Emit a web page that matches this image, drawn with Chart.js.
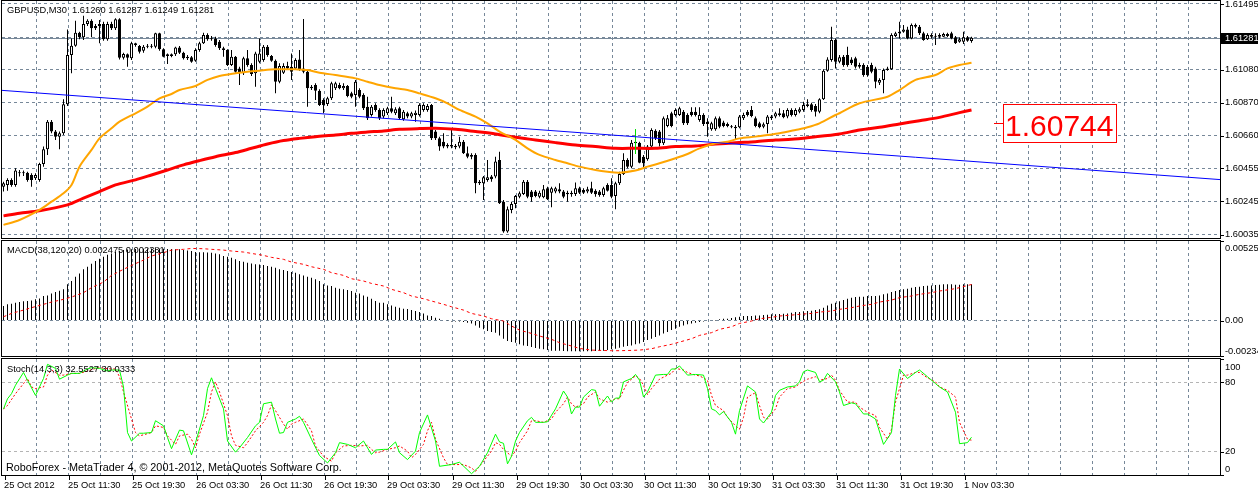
<!DOCTYPE html>
<html lang="en">
<head>
<meta charset="UTF-8">
<title>GBPUSD,M30</title>
<script src="https://cdn.jsdelivr.net/npm/chart.js@4.4.0/dist/chart.umd.min.js"></script>
<style>
    body { margin: 0; background: #fff; width: 1258px; height: 493px; overflow: hidden; position: relative; }
    canvas { position: absolute; left: 0; }
    #price { top: 0; }
    #macd { top: 240px; }
    #stoch { top: 358px; }
</style>
</head>
<body>
<canvas id="price" width="1258" height="240"></canvas>
<canvas id="macd" width="1258" height="118"></canvas>
<canvas id="stoch" width="1258" height="135"></canvas>
<script>
// ---- data (GBPUSD M30, 243 bars, 25 Oct 03:30 .. 1 Nov) ----
const timeLabels = ['25 Oct 2012', '25 Oct 11:30', '25 Oct 19:30', '26 Oct 03:30', '26 Oct 11:30', '26 Oct 19:30',
    '29 Oct 03:30', '29 Oct 11:30', '29 Oct 19:30', '30 Oct 03:30', '30 Oct 11:30', '30 Oct 19:30',
    '31 Oct 03:30', '31 Oct 11:30', '31 Oct 19:30', '1 Nov 03:30'];

const opens = [
    1.60338,1.60349,1.60381,1.60349,1.60427,1.60423,1.60427,1.60412,1.60391,1.60381,
    1.60482,1.60575,1.60750,1.60687,1.60655,1.60676,1.60860,1.61172,1.61231,1.61313,
    1.61284,1.61368,1.61389,1.61355,1.61355,1.61368,1.61271,1.61368,1.61341,1.61398,
    1.61155,1.61176,1.61151,1.61246,1.61229,1.61199,1.61225,1.61231,1.61225,1.61309,
    1.61208,1.61176,1.61166,1.61176,1.61220,1.61187,1.61161,1.61157,1.61136,1.61204,
    1.61246,1.61298,1.61271,1.61277,1.61256,1.61214,1.61204,1.61109,1.61161,1.61087,
    1.61056,1.61151,1.61109,1.61056,1.61130,1.61140,1.61225,1.61166,1.61136,1.61003,
    1.61060,1.61102,1.61098,1.61087,1.61144,1.61087,1.61066,1.60971,1.60982,1.60946,
    1.60887,1.60862,1.60898,1.60961,1.60982,1.60961,1.60976,1.60929,1.60919,1.60950,
    1.60919,1.60845,1.60792,1.60855,1.60824,1.60782,1.60803,1.60834,1.60803,1.60834,
    1.60765,1.60803,1.60782,1.60792,1.60792,1.60824,1.60824,1.60855,1.60687,1.60644,
    1.60623,1.60602,1.60602,1.60587,1.60592,1.60623,1.60549,1.60539,1.60539,1.60370,
    1.60360,1.60381,1.60402,1.60402,1.60507,1.60243,1.60054,1.60191,1.60229,1.60275,
    1.60292,1.60370,1.60307,1.60307,1.60275,1.60271,1.60328,1.60300,1.60307,1.60322,
    1.60307,1.60300,1.60290,1.60292,1.60328,1.60317,1.60307,1.60328,1.60313,1.60307,
    1.60286,1.60349,1.60349,1.60279,1.60360,1.60419,1.60507,1.60465,1.60613,1.60617,
    1.60528,1.60511,1.60592,1.60693,1.60687,1.60613,1.60722,1.60803,1.60792,1.60792,
    1.60813,1.60792,1.60813,1.60813,1.60760,1.60792,1.60750,1.60701,1.60701,1.60771,
    1.60744,1.60722,1.60718,1.60718,1.60714,1.60771,1.60813,1.60824,1.60771,1.60739,
    1.60718,1.60735,1.60782,1.60782,1.60792,1.60803,1.60782,1.60824,1.60792,1.60813,
    1.60824,1.60849,1.60860,1.60849,1.60813,1.60891,1.61073,1.61140,1.61267,1.61130,
    1.61161,1.61172,1.61144,1.61151,1.61098,1.61109,1.61098,1.61109,1.61087,1.60997,
    1.61014,1.61077,1.61081,1.61292,1.61309,1.61320,1.61334,1.61277,1.61362,1.61351,
    1.61309,1.61271,1.61298,1.61292,1.61288,1.61288,1.61305,1.61309,1.61284,1.61256,
    1.61256,1.61284,1.61260];

const highs = [
    1.60370,1.60391,1.60391,1.60454,1.60444,1.60440,1.60433,1.60423,1.60423,1.60490,
    1.60592,1.60760,1.60760,1.60697,1.60687,1.60891,1.61334,1.61277,1.61389,1.61320,
    1.61421,1.61398,1.61398,1.61368,1.61393,1.61383,1.61383,1.61383,1.61404,1.61404,
    1.61187,1.61182,1.61256,1.61250,1.61235,1.61235,1.61241,1.61241,1.61313,1.61313,
    1.61214,1.61182,1.61182,1.61225,1.61229,1.61193,1.61172,1.61166,1.61214,1.61256,
    1.61313,1.61309,1.61292,1.61288,1.61267,1.61225,1.61208,1.61204,1.61166,1.61098,
    1.61161,1.61204,1.61119,1.61193,1.61277,1.61235,1.61235,1.61172,1.61144,1.61119,
    1.61119,1.61130,1.61182,1.61151,1.61204,1.61400,1.61077,1.60982,1.60993,1.60955,
    1.60898,1.60908,1.61003,1.61003,1.60997,1.60993,1.60982,1.60940,1.61014,1.60961,
    1.60929,1.60908,1.60855,1.60866,1.60834,1.60834,1.60845,1.60908,1.60841,1.60845,
    1.60824,1.60813,1.60813,1.60820,1.60866,1.60866,1.60862,1.60862,1.60697,1.60655,
    1.60676,1.60613,1.60697,1.60608,1.60655,1.60634,1.60592,1.60549,1.60549,1.60381,
    1.60406,1.60507,1.60412,1.60528,1.60560,1.60254,1.60212,1.60243,1.60286,1.60307,
    1.60381,1.60381,1.60317,1.60317,1.60313,1.60349,1.60338,1.60338,1.60338,1.60360,
    1.60317,1.60313,1.60313,1.60364,1.60338,1.60328,1.60338,1.60370,1.60322,1.60317,
    1.60338,1.60360,1.60391,1.60370,1.60433,1.60549,1.60518,1.60634,1.60634,1.60623,
    1.60539,1.60602,1.60708,1.60701,1.60697,1.60782,1.60792,1.60813,1.60834,1.60845,
    1.60824,1.60803,1.60841,1.60841,1.60841,1.60803,1.60771,1.60750,1.60782,1.60782,
    1.60756,1.60744,1.60729,1.60729,1.60792,1.60807,1.60824,1.60849,1.60782,1.60750,
    1.60744,1.60792,1.60792,1.60813,1.60834,1.60824,1.60834,1.60834,1.60834,1.60841,
    1.60876,1.60891,1.60870,1.60862,1.60898,1.61081,1.61157,1.61351,1.61277,1.61172,
    1.61172,1.61225,1.61157,1.61161,1.61123,1.61119,1.61109,1.61123,1.61098,1.61024,
    1.61087,1.61098,1.61309,1.61320,1.61383,1.61362,1.61351,1.61372,1.61372,1.61362,
    1.61320,1.61309,1.61309,1.61309,1.61309,1.61313,1.61313,1.61320,1.61292,1.61284,
    1.61320,1.61292,1.61287];

const lows = [
    1.60307,1.60313,1.60338,1.60338,1.60402,1.60406,1.60370,1.60338,1.60381,1.60370,
    1.60465,1.60539,1.60676,1.60634,1.60575,1.60665,1.60849,1.61056,1.61225,1.61271,
    1.61267,1.61355,1.61284,1.61330,1.61246,1.61263,1.61263,1.61330,1.61330,1.61144,
    1.61144,1.61098,1.61140,1.61225,1.61182,1.61187,1.61214,1.61214,1.61214,1.61199,
    1.61157,1.61115,1.61157,1.61166,1.61178,1.61144,1.61140,1.61123,1.61130,1.61193,
    1.61241,1.61263,1.61263,1.61225,1.61204,1.61161,1.61102,1.61102,1.61060,1.60982,
    1.61045,1.61098,1.61039,1.60971,1.61119,1.61130,1.61161,1.61130,1.60929,1.60993,
    1.61052,1.61077,1.61014,1.61077,1.61073,1.61056,1.60845,1.60950,1.60887,1.60849,
    1.60803,1.60849,1.60887,1.60950,1.60955,1.60950,1.60904,1.60898,1.60845,1.60898,
    1.60824,1.60760,1.60782,1.60813,1.60760,1.60771,1.60792,1.60803,1.60792,1.60760,
    1.60756,1.60771,1.60771,1.60750,1.60782,1.60813,1.60813,1.60634,1.60634,1.60566,
    1.60581,1.60581,1.60581,1.60575,1.60581,1.60545,1.60518,1.60511,1.60296,1.60349,
    1.60254,1.60370,1.60370,1.60391,1.60229,1.60047,1.60047,1.60170,1.60201,1.60265,
    1.60286,1.60265,1.60243,1.60271,1.60265,1.60265,1.60254,1.60208,1.60296,1.60296,
    1.60265,1.60243,1.60275,1.60279,1.60292,1.60292,1.60296,1.60292,1.60275,1.60275,
    1.60275,1.60307,1.60265,1.60195,1.60349,1.60412,1.60454,1.60454,1.60602,1.60486,
    1.60454,1.60503,1.60581,1.60634,1.60592,1.60602,1.60714,1.60714,1.60782,1.60786,
    1.60729,1.60729,1.60782,1.60782,1.60750,1.60722,1.60655,1.60693,1.60693,1.60708,
    1.60714,1.60714,1.60708,1.60638,1.60708,1.60760,1.60782,1.60777,1.60714,1.60708,
    1.60708,1.60676,1.60760,1.60771,1.60782,1.60771,1.60771,1.60782,1.60782,1.60803,
    1.60813,1.60841,1.60813,1.60782,1.60803,1.60887,1.61066,1.61130,1.61087,1.61119,
    1.61098,1.61098,1.61109,1.61087,1.61087,1.61035,1.61035,1.61056,1.60961,1.60982,
    1.60929,1.61073,1.61077,1.61284,1.61277,1.61313,1.61271,1.61271,1.61341,1.61298,
    1.61263,1.61267,1.61277,1.61235,1.61277,1.61284,1.61284,1.61271,1.61241,1.61250,
    1.61241,1.61256,1.61249];

const closes = [
    1.60360,1.60381,1.60349,1.60440,1.60423,1.60427,1.60381,1.60381,1.60412,1.60482,
    1.60575,1.60750,1.60687,1.60655,1.60676,1.60860,1.61172,1.61231,1.61313,1.61284,
    1.61368,1.61389,1.61341,1.61341,1.61368,1.61271,1.61368,1.61341,1.61398,1.61155,
    1.61178,1.61155,1.61246,1.61235,1.61193,1.61225,1.61231,1.61225,1.61309,1.61208,
    1.61161,1.61166,1.61176,1.61220,1.61187,1.61151,1.61151,1.61130,1.61204,1.61246,
    1.61298,1.61271,1.61277,1.61235,1.61214,1.61204,1.61109,1.61161,1.61066,1.61060,
    1.61151,1.61109,1.61052,1.61182,1.61182,1.61225,1.61172,1.61136,1.61003,1.61102,
    1.61102,1.61087,1.61066,1.61140,1.61081,1.61066,1.60961,1.60961,1.60946,1.60855,
    1.60855,1.60898,1.60993,1.60993,1.60961,1.60976,1.60912,1.60908,1.61003,1.60908,
    1.60834,1.60771,1.60845,1.60824,1.60771,1.60824,1.60834,1.60813,1.60828,1.60771,
    1.60813,1.60782,1.60803,1.60807,1.60855,1.60855,1.60849,1.60644,1.60644,1.60592,
    1.60592,1.60592,1.60592,1.60598,1.60623,1.60549,1.60528,1.60528,1.60360,1.60360,
    1.60398,1.60398,1.60385,1.60497,1.60233,1.60054,1.60195,1.60229,1.60279,1.60296,
    1.60370,1.60275,1.60271,1.60279,1.60300,1.60322,1.60258,1.60328,1.60328,1.60307,
    1.60275,1.60290,1.60300,1.60328,1.60300,1.60300,1.60322,1.60300,1.60290,1.60286,
    1.60328,1.60313,1.60275,1.60360,1.60419,1.60507,1.60465,1.60617,1.60623,1.60490,
    1.60486,1.60592,1.60697,1.60644,1.60613,1.60771,1.60771,1.60722,1.60824,1.60834,
    1.60739,1.60739,1.60792,1.60792,1.60792,1.60735,1.60735,1.60739,1.60771,1.60718,
    1.60722,1.60735,1.60714,1.60708,1.60782,1.60792,1.60792,1.60786,1.60722,1.60714,
    1.60733,1.60782,1.60771,1.60803,1.60803,1.60777,1.60824,1.60792,1.60824,1.60828,
    1.60855,1.60860,1.60824,1.60813,1.60891,1.61073,1.61144,1.61267,1.61130,1.61157,
    1.61109,1.61109,1.61119,1.61098,1.61109,1.61045,1.61045,1.61066,1.61003,1.61014,
    1.61077,1.61087,1.61298,1.61309,1.61320,1.61334,1.61277,1.61362,1.61351,1.61309,
    1.61267,1.61298,1.61288,1.61288,1.61298,1.61305,1.61292,1.61277,1.61246,1.61271,
    1.61284,1.61263,1.61281];

// moving averages as [bar, price]
const maFast = [[0,1.60096],[4,1.60127],[9,1.60191],[12,1.60243],[15,1.60296],[17,1.60349],[19,1.60465],[22,1.60571],
    [24,1.60644],[27,1.60708],[29,1.60750],[33,1.60803],[36,1.60845],[39,1.60898],[42,1.60925],[44,1.60950],[48,1.60976],
    [51,1.61014],[54,1.61039],[58,1.61056],[61,1.61066],[64,1.61073],[68,1.61081],[71,1.61081],[73,1.61081],[76,1.61077],
    [79,1.61060],[83,1.61045],[88,1.61024],[91,1.61003],[94,1.60982],[98,1.60961],[101,1.60950],[104,1.60929],[108,1.60898],
    [111,1.60866],[114,1.60824],[118,1.60782],[121,1.60739],[124,1.60687],[128,1.60634],[131,1.60581],[134,1.60539],
    [138,1.60507],[141,1.60486],[144,1.60465],[148,1.60444],[151,1.60433],[154,1.60427],[158,1.60440],[161,1.60465],
    [164,1.60486],[168,1.60518],[171,1.60545],[174,1.60581],[178,1.60613],[181,1.60623],[184,1.60644],[188,1.60655],
    [191,1.60665],[194,1.60676],[198,1.60697],[201,1.60714],[204,1.60739],[208,1.60792],[209,1.60803],[214,1.60866],
    [221,1.60908],[224,1.60950],[228,1.61014],[233,1.61045],[236,1.61087],[239,1.61109],[242,1.61123]];

const maSlow = [[0,1.60153],[4,1.60170],[9,1.60186],[16,1.60223],[20,1.60265],[24,1.60307],[28,1.60349],[33,1.60381],
    [37,1.60412],[41,1.60444],[45,1.60476],[49,1.60503],[53,1.60528],[58,1.60554],[62,1.60581],[66,1.60608],[70,1.60630],
    [74,1.60644],[78,1.60655],[83,1.60665],[87,1.60676],[91,1.60684],[95,1.60691],[99,1.60701],[104,1.60706],[108,1.60708],
    [113,1.60701],[118,1.60687],[123,1.60672],[128,1.60651],[133,1.60634],[138,1.60617],[143,1.60602],[148,1.60592],
    [153,1.60581],[158,1.60581],[163,1.60581],[168,1.60592],[173,1.60596],[178,1.60608],[183,1.60617],[188,1.60623],
    [193,1.60634],[197,1.60638],[202,1.60651],[209,1.60672],[214,1.60697],[219,1.60714],[224,1.60735],[229,1.60756],
    [234,1.60777],[239,1.60807],[242,1.60824]];

const trendLine = [[-0.375,1.60948],[304.125,1.60383]];
const marker = [[158,1.60701],[158,1.60545]];
const priceTicks = [1.61495, 1.61285, 1.61080, 1.60870, 1.60660, 1.60455, 1.60245, 1.60035];
const lastPrice = 1.61281;
const noteValue = 1.60744;

const macdHist = [
    0.00096,0.00107,0.00111,0.00118,0.00122,0.00127,0.00129,0.00133,0.00140,0.00146,
    0.00162,0.00166,0.00179,0.00188,0.00197,0.00206,0.00239,0.00261,0.00289,0.00311,
    0.00338,0.00355,0.00375,0.00393,0.00408,0.00421,0.00435,0.00443,0.00452,0.00459,
    0.00465,0.00469,0.00471,0.00472,0.00473,0.00474,0.00475,0.00475,0.00476,0.00475,
    0.00474,0.00473,0.00472,0.00471,0.00470,0.00465,0.00463,0.00459,0.00452,0.00451,
    0.00450,0.00449,0.00448,0.00443,0.00437,0.00426,0.00421,0.00415,0.00404,0.00393,
    0.00388,0.00382,0.00377,0.00371,0.00370,0.00366,0.00360,0.00355,0.00349,0.00338,
    0.00333,0.00327,0.00320,0.00316,0.00305,0.00298,0.00289,0.00283,0.00272,0.00261,
    0.00239,0.00232,0.00228,0.00217,0.00210,0.00206,0.00201,0.00195,0.00184,0.00179,
    0.00166,0.00157,0.00144,0.00129,0.00118,0.00117,0.00107,0.00100,0.00091,0.00085,
    0.00078,0.00077,0.00069,0.00063,0.00056,0.00047,0.00034,0.00030,0.00019,0.00012,
    0.00003,-0.00001,-0.00006,-0.00006,-0.00006,-0.00010,-0.00014,-0.00019,-0.00032,-0.00047,
    -0.00058,-0.00069,-0.00076,-0.00080,-0.00098,-0.00120,-0.00135,-0.00142,-0.00146,-0.00157,
    -0.00164,-0.00168,-0.00175,-0.00182,-0.00186,-0.00190,-0.00195,-0.00199,-0.00199,-0.00200,
    -0.00201,-0.00202,-0.00202,-0.00203,-0.00203,-0.00203,-0.00202,-0.00202,-0.00201,-0.00200,
    -0.00199,-0.00195,-0.00190,-0.00186,-0.00179,-0.00173,-0.00168,-0.00164,-0.00157,-0.00151,
    -0.00142,-0.00129,-0.00120,-0.00109,-0.00098,-0.00085,-0.00076,-0.00063,-0.00054,-0.00041,
    -0.00032,-0.00025,-0.00019,-0.00014,-0.00010,-0.00006,-0.00003,-0.00003,0.00001,0.00008,
    0.00012,0.00012,0.00017,0.00021,0.00025,0.00030,0.00030,0.00030,0.00034,0.00034,
    0.00036,0.00039,0.00041,0.00041,0.00043,0.00045,0.00047,0.00052,0.00056,0.00056,
    0.00061,0.00063,0.00065,0.00069,0.00074,0.00085,0.00100,0.00111,0.00118,0.00127,
    0.00135,0.00144,0.00151,0.00155,0.00157,0.00157,0.00162,0.00162,0.00162,0.00166,
    0.00173,0.00179,0.00188,0.00195,0.00201,0.00206,0.00210,0.00217,0.00221,0.00223,
    0.00228,0.00230,0.00232,0.00234,0.00237,0.00239,0.00239,0.00239,0.00237,0.00237,
    0.00239,0.00239,0.00240];

const macdSignal = [[0,0.00025],[2,0.00047],[5,0.00069],[7,0.00085],[10,0.00107],[12,0.00122],[15,0.00140],[17,0.00155],
    [20,0.00184],[22,0.00217],[25,0.00254],[27,0.00298],[30,0.00338],[32,0.00364],[35,0.00399],[37,0.00426],[40,0.00448],
    [42,0.00465],[45,0.00470],[47,0.00476],[50,0.00474],[52,0.00470],[55,0.00465],[57,0.00459],[60,0.00452],[62,0.00443],
    [65,0.00430],[67,0.00417],[70,0.00404],[72,0.00386],[75,0.00371],[77,0.00355],[80,0.00338],[82,0.00316],[85,0.00298],
    [87,0.00276],[90,0.00261],[92,0.00245],[95,0.00228],[97,0.00206],[100,0.00184],[102,0.00162],[105,0.00144],[107,0.00129],
    [110,0.00107],[112,0.00091],[115,0.00069],[117,0.00047],[120,0.00030],[122,0.00012],[125,-0.00003],[127,-0.00036],
    [129,-0.00063],[132,-0.00085],[134,-0.00102],[137,-0.00124],[139,-0.00146],[142,-0.00168],[144,-0.00184],[147,-0.00195],
    [149,-0.00197],[152,-0.00199],[154,-0.00199],[157,-0.00197],[159,-0.00195],[162,-0.00186],[164,-0.00173],[167,-0.00157],
    [169,-0.00142],[172,-0.00120],[174,-0.00098],[177,-0.00080],[179,-0.00058],[182,-0.00041],[184,-0.00019],[187,-0.00003],
    [189,0.00012],[192,0.00021],[194,0.00030],[197,0.00036],[199,0.00041],[202,0.00047],[204,0.00056],[207,0.00063],
    [209,0.00074],[212,0.00085],[214,0.00096],[217,0.00107],[219,0.00122],[222,0.00135],[224,0.00151],[227,0.00162],
    [229,0.00173],[232,0.00184],[234,0.00195],[237,0.00206],[239,0.00217],[242,0.00238]];

const stochMain = [[0,57.0],[1,65.7],[2,70.1],[3,77.4],[5,88.4],[6,81.7],[8,68.6],[10,83.2],[11,95.4],[13,91.9],[14,82.6],
    [16,86.1],[17,87.6],[19,87.6],[21,91.4],[22,92.5],[24,91.9],[26,89.6],[27,90.5],[29,90.5],[30,75.9],[31,36.6],[32,29.3],
    [34,36.0],[35,36.0],[37,36.6],[38,46.8],[40,42.4],[41,32.3],[42,22.7],[44,38.7],[45,38.1],[47,17.4],[48,27.9],[50,51.2],
    [51,74.5],[52,83.8],[53,74.5],[55,57.0],[56,29.3],[58,19.7],[59,23.5],[61,32.3],[63,42.4],[64,45.4],[65,61.4],[67,62.8],
    [68,48.3],[69,36.0],[70,36.6],[71,45.4],[73,48.3],[74,50.6],[75,45.4],[77,30.8],[79,16.8],[81,10.4],[83,19.2],[84,27.9],
    [86,26.4],[88,23.5],[90,29.3],[92,17.7],[93,21.5],[95,22.1],[96,22.1],[98,28.5],[99,19.2],[101,13.3],[103,20.6],[104,36.6],
    [106,51.8],[108,29.3],[109,7.5],[112,9.0],[114,11.0],[117,1.1],[119,7.5],[121,19.2],[123,35.2],[124,28.5],[125,27.3],
    [126,9.6],[127,16.2],[128,29.3],[129,36.6],[131,46.8],[132,49.7],[133,45.4],[135,45.4],[136,45.9],[138,57.0],[140,72.4],
    [141,67.2],[142,52.6],[143,58.5],[144,58.5],[145,67.2],[147,73.6],[148,73.0],[149,59.3],[151,68.1],[152,62.8],[153,66.3],
    [154,66.3],[155,80.3],[157,83.2],[158,86.7],[159,81.7],[160,67.2],[161,71.6],[163,86.1],[165,86.7],[166,86.7],[167,91.4],
    [168,91.4],[169,94.0],[171,86.1],[173,86.7],[175,86.1],[176,74.5],[177,57.0],[178,55.5],[179,51.8],[180,54.7],[182,45.4],
    [183,35.2],[184,55.5],[186,76.8],[188,71.6],[189,48.3],[190,44.8],[192,54.1],[193,68.6],[194,73.0],[196,75.9],[198,76.8],
    [199,80.3],[200,89.0],[201,90.5],[203,88.4],[204,80.3],[205,81.7],[206,87.6],[208,80.3],[209,71.6],[210,59.9],[212,62.2],
    [213,61.4],[215,52.6],[216,52.6],[218,48.3],[220,26.4],[222,36.6],[223,68.6],[224,91.4],[226,83.2],[228,88.4],[229,90.5],
    [231,84.7],[233,78.8],[234,75.9],[236,71.6],[238,54.1],[239,27.0],[241,27.9],[242,32.55]];

const stochSignal = [[0,57.0],[1,59.9],[3,70.1],[5,78.8],[6,83.2],[7,75.9],[8,74.5],[10,75.9],[11,86.1],[12,90.5],[14,86.1],
    [15,86.1],[17,87.6],[19,87.6],[21,89.6],[23,91.9],[24,92.5],[27,91.4],[28,91.4],[29,84.7],[30,71.6],[32,48.3],[33,36.6],
    [34,33.7],[37,36.6],[38,42.4],[40,41.0],[41,33.7],[43,26.4],[44,33.7],[46,35.2],[47,30.8],[48,23.5],[49,35.2],[51,54.1],
    [52,71.6],[53,80.3],[54,71.6],[56,51.2],[57,33.7],[58,25.6],[60,23.5],[61,27.9],[63,38.1],[65,45.4],[66,51.2],[67,60.5],
    [68,55.5],[70,43.9],[71,39.5],[72,43.9],[73,45.4],[75,48.3],[77,38.1],[78,25.0],[80,16.2],[82,11.9],[83,19.2],[85,25.0],
    [87,25.6],[89,25.0],[91,25.6],[92,22.1],[93,19.2],[94,19.7],[96,22.1],[98,23.5],[99,25.0],[101,20.6],[102,14.8],[103,17.7],
    [105,26.4],[106,38.1],[107,45.4],[108,30.8],[110,14.8],[111,9.0],[113,9.0],[115,9.0],[117,6.1],[118,3.1],[120,11.9],
    [122,20.6],[123,27.9],[124,26.4],[125,22.1],[127,16.2],[128,20.6],[129,27.9],[131,38.1],[132,46.8],[133,46.8],[135,45.4],
    [137,48.3],[138,54.1],[140,61.4],[141,67.2],[142,61.4],[143,58.5],[145,61.4],[146,67.2],[148,71.6],[149,65.7],[151,62.8],
    [153,65.7],[154,65.7],[155,73.0],[156,79.7],[158,85.5],[159,83.2],[160,77.4],[161,69.2],[162,74.5],[164,82.6],[166,86.1],
    [167,87.6],[168,91.9],[170,90.5],[171,88.4],[173,86.1],[174,85.5],[176,81.7],[177,68.6],[178,59.9],[180,55.5],[181,49.7],
    [183,42.4],[184,39.5],[185,49.7],[186,67.2],[188,71.0],[189,59.9],[190,49.7],[191,48.3],[193,57.0],[194,67.2],[196,74.5],
    [198,75.9],[199,78.8],[201,82.6],[203,84.7],[204,81.7],[206,83.2],[207,86.1],[208,81.7],[209,73.0],[211,62.8],[213,62.8],
    [214,58.5],[216,54.1],[218,51.2],[219,41.0],[221,30.8],[222,39.5],[223,62.8],[225,86.1],[226,86.1],[228,88.4],[229,88.4],
    [231,83.8],[233,80.3],[234,75.9],[236,73.0],[238,67.2],[239,45.4],[241,30.8],[242,30.03]];

// ---- styling ----
const GRID = '#778899';
const LEVEL = '#b4b4b4';
const FONT = "9.3px 'Liberation Sans', Arial, sans-serif";
const X_MIN = -0.375, X_MAX = 304.125;   // 4 px per bar

const gridBars = [];
for (let b = 8.25; b < X_MAX; b += 8) gridBars.push(b);

const pts = arr => arr.map(p => ({ x: p[0], y: p[1] }));
const last = closes.length - 1;

function timeAxis() {
    return {
        type: 'linear', min: X_MIN, max: X_MAX, offset: false,
        afterBuildTicks: s => { s.ticks = gridBars.map(v => ({ value: v })); },
        afterFit: s => { s.height = 0; },
        ticks: { display: false },
        grid: { color: GRID, drawTicks: false, offset: false },
        border: { display: false, dash: [3, 3] }
    };
}

function valueAxis(min, max, gridVals, color) {
    return {
        position: 'right', min: min, max: max,
        afterBuildTicks: s => { s.ticks = gridVals.map(v => ({ value: v })); },
        afterFit: s => { s.width = 38; },
        ticks: { display: false },
        grid: { color: color, drawTicks: false },
        border: { display: false, dash: [3, 3] }
    };
}

// MT4 style frame, labels, price tag, text object
const mt4 = {
    id: 'mt4',
    beforeDatasetsDraw(chart, args, o) {
        if (o.priceLine === undefined) return;
        const { ctx, chartArea: a, scales: { y } } = chart;
        const py = Math.round(y.getPixelForValue(o.priceLine)) + 0.5;
        ctx.save();
        ctx.strokeStyle = GRID;
        ctx.beginPath(); ctx.moveTo(a.left, py); ctx.lineTo(a.right, py); ctx.stroke();
        ctx.restore();
    },
    afterDatasetsDraw(chart, args, o) {
        const { ctx, chartArea: a, scales: { x, y } } = chart;
        ctx.save();
        ctx.strokeStyle = '#000';
        ctx.lineWidth = 1;
        ctx.strokeRect(a.left - 0.5, a.top - 0.5, a.right - a.left + 1, a.bottom - a.top + 1);

        ctx.font = FONT;
        ctx.fillStyle = '#000';
        ctx.textAlign = 'left';
        ctx.textBaseline = 'middle';
        if (o.title) ctx.fillText(o.title, a.left + 5, a.top + o.titleDy);

        (o.yLabels || []).forEach(l => {
            const vy = y.getPixelForValue(l[0]);
            const ty = Math.min(Math.max(vy, a.top + o.padTop), a.bottom - o.padBottom);
            const ry = Math.round(vy) + 0.5;
            ctx.beginPath(); ctx.moveTo(a.right + 1, ry); ctx.lineTo(a.right + 4, ry); ctx.stroke();
            ctx.fillText(l[1], a.right + 5, ty);
        });

        if (o.priceLine !== undefined) {
            const py = Math.round(y.getPixelForValue(o.priceLine));
            ctx.fillStyle = '#000';
            ctx.fillRect(a.right + 1, py - 5, 40, 11);
            ctx.fillStyle = '#fff';
            ctx.fillText(o.priceLine.toFixed(5), a.right + 5, py + 0.5);
        }

        if (o.note) {
            const nx = Math.round(x.getPixelForValue(o.note.bar));
            const ny = Math.round(y.getPixelForValue(o.note.value)) + 0.5;
            ctx.strokeStyle = '#ff0000';
            ctx.beginPath(); ctx.moveTo(nx, ny); ctx.lineTo(nx + 9, ny); ctx.stroke();
            ctx.fillStyle = '#fff';
            ctx.fillRect(nx + 9.5, ny - 19, 113, 38);
            ctx.strokeRect(nx + 9.5, ny - 19, 113, 38);
            ctx.fillStyle = '#ff0000';
            ctx.font = "30px 'Liberation Sans', Arial, sans-serif";
            ctx.textBaseline = 'alphabetic';
            ctx.fillText(o.note.value.toFixed(5), nx + 11, ny + 12);
        }

        if (o.timeLabels) {
            ctx.font = FONT;
            ctx.fillStyle = '#000';
            ctx.strokeStyle = '#000';
            ctx.textBaseline = 'middle';
            o.timeLabels.forEach((t, m) => {
                const px = Math.round(x.getPixelForValue(16 * m + 0.25)) + 0.5;
                ctx.beginPath(); ctx.moveTo(px, a.bottom + 1); ctx.lineTo(px, a.bottom + 5); ctx.stroke();
                ctx.fillText(t, px - 1.5, a.bottom + 10);
            });
        }
        if (o.footer) {
            ctx.font = "10.8px 'Liberation Sans', Arial, sans-serif";
            ctx.fillStyle = '#000';
            ctx.textBaseline = 'middle';
            ctx.fillText(o.footer, a.left + 4, a.bottom - 7);
        }
        ctx.restore();
    }
};

function baseOptions(padding, scales, mt4Opts) {
    return {
        responsive: false,
        animation: false,
        events: [],
        layout: { padding: padding },
        plugins: { legend: { display: false }, tooltip: { enabled: false }, mt4: mt4Opts },
        scales: scales
    };
}

const barIdx = closes.map((c, i) => i);

// ---- price window ----
new Chart(document.getElementById('price'), {
    type: 'bar',
    data: {
        datasets: [
            {
                type: 'line', order: 0, data: pts(trendLine),
                borderColor: '#0000ff', borderWidth: 1, pointRadius: 0
            },
            {
                type: 'line', order: 0, data: pts(marker),
                borderColor: '#00e000', borderWidth: 1, pointRadius: 0
            },
            {
                type: 'line', order: 1, data: pts(maFast),
                borderColor: '#ffa500', borderWidth: 2, pointRadius: 0, tension: 0.3
            },
            {
                type: 'line', order: 1, data: pts(maSlow),
                borderColor: '#ff0000', borderWidth: 3, pointRadius: 0, tension: 0.3
            },
            {
                order: 2,
                data: barIdx.map(i => ({ x: i, y: [Math.min(opens[i], closes[i]), Math.max(opens[i], closes[i])] })),
                backgroundColor: c => closes[c.dataIndex] >= opens[c.dataIndex] ? '#ffffff' : '#000000',
                borderColor: '#000', borderWidth: 1, borderSkipped: false, minBarLength: 1,
                grouped: false, barPercentage: 1, categoryPercentage: 1, maxBarThickness: 3, inflateAmount: 0
            },
            {
                order: 3,
                data: barIdx.map(i => ({ x: i, y: [lows[i], highs[i]] })),
                backgroundColor: '#000',
                grouped: false, barPercentage: 1, categoryPercentage: 1, maxBarThickness: 1, inflateAmount: 0
            }
        ]
    },
    options: baseOptions({ left: 2, top: 1, right: 0, bottom: 2 },
        { x: timeAxis(), y: valueAxis(1.60013, 1.61514, priceTicks, GRID) },
        {
            title: 'GBPUSD,M30  ' + [opens[last], highs[last], lows[last], closes[last]].map(v => v.toFixed(5)).join(' '),
            titleDy: 9.5,
            yLabels: priceTicks.map(v => [v, v.toFixed(5)]),
            padTop: 3, padBottom: 3,
            priceLine: lastPrice,
            note: { bar: 247.5, value: noteValue }
        }),
    plugins: [mt4]
});

// ---- MACD window ----
new Chart(document.getElementById('macd'), {
    type: 'bar',
    data: {
        datasets: [
            {
                type: 'line', order: 0, data: pts(macdSignal),
                borderColor: '#ff0000', borderWidth: 1, borderDash: [3, 3], pointRadius: 0
            },
            {
                order: 1,
                data: barIdx.map(i => ({ x: i, y: macdHist[i] })),
                backgroundColor: '#000',
                grouped: false, barPercentage: 1, categoryPercentage: 1, maxBarThickness: 1, inflateAmount: 0
            }
        ]
    },
    options: baseOptions({ left: 2, top: 1, right: 0, bottom: 2 },
        { x: timeAxis(), y: valueAxis(-0.00234, 0.00525, [0], GRID) },
        {
            title: 'MACD(38,120,20) 0.002475 0.002381', titleDy: 9.5,
            yLabels: [[0.00525, '0.00525'], [0, '0.00'], [-0.00234, '-0.00234']],
            padTop: 7, padBottom: 5
        }),
    plugins: [mt4]
});

// ---- Stochastic window ----
new Chart(document.getElementById('stoch'), {
    type: 'line',
    data: {
        datasets: [
            {
                data: pts(stochMain),
                borderColor: '#00ff00', borderWidth: 1, pointRadius: 0, order: 0
            },
            {
                data: pts(stochSignal),
                borderColor: '#ff0000', borderWidth: 1, borderDash: [2, 2], pointRadius: 0, order: 1
            }
        ]
    },
    options: baseOptions({ left: 2, top: 1, right: 0, bottom: 18 },
        { x: timeAxis(), y: valueAxis(0, 100, [80, 20], LEVEL) },
        {
            title: 'Stoch(14,3,3) 32.5527 30.0333', titleDy: 10,
            yLabels: [[100, '100'], [80, '80'], [20, '20'], [0, '0']],
            padTop: 8, padBottom: 6,
            timeLabels: timeLabels,
            footer: 'RoboForex - MetaTrader 4, \u00a9 2001-2012, MetaQuotes Software Corp.'
        }),
    plugins: [mt4]
});
</script>
</body>
</html>
